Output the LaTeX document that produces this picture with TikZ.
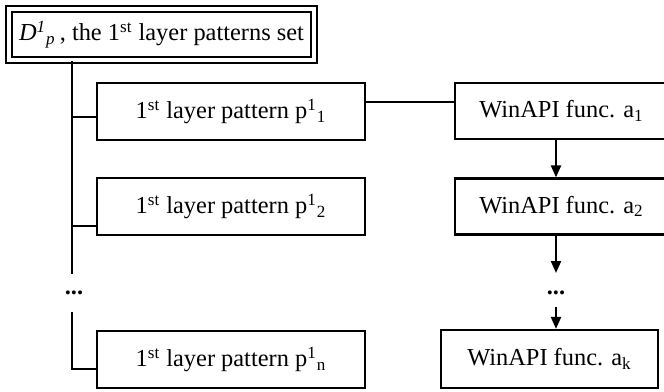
\documentclass[tikz,border=0pt]{standalone}
\usepackage{fontspec}
\setmainfont{Liberation Serif}
\usetikzlibrary{arrows.meta,calc}
\begin{document}
\begin{tikzpicture}[x=0.5pt,y=-0.5pt,
  every node/.style={font=\fontsize{12.2}{14}\selectfont, inner sep=0pt},
  pbox/.style={draw, line width=1.1pt, minimum width=134pt, minimum height=28.5pt},
  abox/.style={draw, line width=1.1pt, minimum width=106.5pt, minimum height=28pt},
  conn/.style={line width=1.1pt},
  arr/.style={line width=1.1pt, -{Triangle[length=6pt,width=5pt]}}]
\useasboundingbox (0,0) rectangle (664,391);
\node[draw, line width=1.1pt, double=white, double distance=1.8pt,
  minimum width=152.5pt, minimum height=25.5pt] (D) at (161.5,34.5)
  {\textit{D}\textsuperscript{\textit{1}}\textsubscript{\textit{p}}\,, the 1\textsuperscript{st} layer patterns set};
\node[pbox] (p1) at (231,111.5) {1\textsuperscript{st} layer pattern p\textsuperscript{1}\textsubscript{1}};
\node[pbox] (p2) at (231,206.5) {1\textsuperscript{st} layer pattern p\textsuperscript{1}\textsubscript{2}};
\node[pbox] (pn) at (231,359.5) {1\textsuperscript{st} layer pattern p\textsuperscript{1}\textsubscript{n}};
\node (ldots) at (74,293) {\textbf{...}};
\node[abox] (a1) at (561.5,111) {WinAPI func. a\textsubscript{1}};
\node[abox] (a2) at (561.5,206.5) {WinAPI func. a\textsubscript{2}};
\node[draw, line width=1.1pt, minimum width=108.5pt, minimum height=29pt] (ak) at (549.5,359) {WinAPI func. a\textsubscript{k}};
\node (rdots) at (556,293) {\textbf{...}};
% left trunk
\coordinate (t0) at (72,64);
\coordinate (t1) at (72,274);
\coordinate (t2) at (72,312);
\draw[conn] (t0 |- D.south) -- (t1);
\draw[conn] (72,117) -- (72,117 -| p1.west);
\draw[conn] (72,226) -- (72,226 -| p2.west);
\draw[conn] (t2) -- (72,369) -- (72,369 -| pn.west);
% p1 to a1
\draw[conn] (p1.east |- 0,102) -- (a1.west |- 0,102);
% right chain
\coordinate (c) at (556,0);
\draw[arr] (c |- a1.south) -- (c |- a2.north);
\draw[arr] (c |- a2.south) -- (556,273);
\draw[arr] (556,307) -- (c |- ak.north);
\end{tikzpicture}
\end{document}
